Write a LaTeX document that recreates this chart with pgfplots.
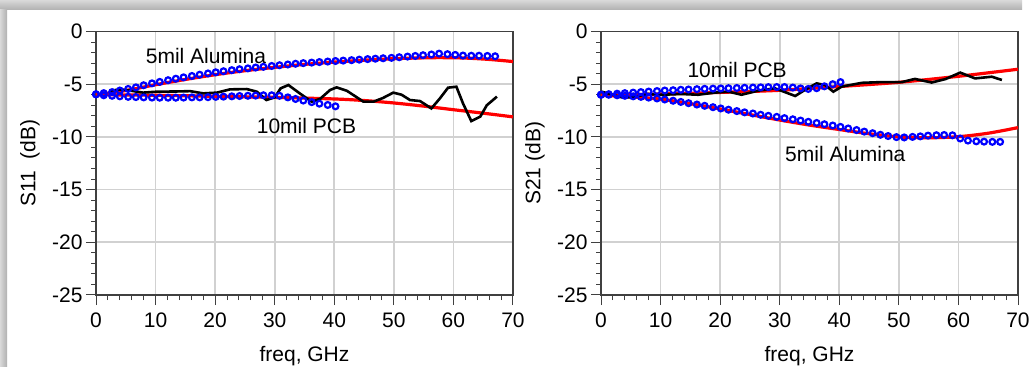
\documentclass[border=0pt]{standalone}
\usepackage{fontspec}
\setmainfont{Liberation Sans}
\usepackage{pgfplots}
\pgfplotsset{compat=1.18}
\definecolor{myblue}{rgb}{0,0,1}
\definecolor{myred}{rgb}{1,0,0}
\definecolor{gridfill}{rgb}{0.82,0.82,0.82}
\tikzset{lab/.style={anchor=base west, inner sep=0pt, font=\fontsize{21}{25}\selectfont}}
\pgfplotsset{myax/.style={
  scale only axis, width=417pt, height=263.5pt, anchor=south west,
  xmin=0, xmax=70, ymin=-25, ymax=0,
  xtick={0,10,...,70}, ytick={-25,-20,...,0},
  minor x tick num=4, minor y tick num=4,
  tick align=outside, xtick pos=bottom, ytick pos=left,
  major tick length=10pt, minor tick length=5pt,
  axis line style={black!75, line width=1.2pt},
  every tick/.style={black!75, line width=1pt},
  ticklabel style={font=\fontsize{21}{25}\selectfont},
  xticklabel style={yshift=-4pt},
  /pgf/number format/assume math mode=true,
  every axis x label/.style={at={(axis description cs:0.5,0)}, anchor=base, yshift=-66.5pt, font=\fontsize{21}{25}\selectfont},
  every axis y label/.style={at={(axis description cs:0,0.5)}, xshift=-66pt, rotate=90, anchor=center, font=\fontsize{21}{25}\selectfont},
  meas/.style={myblue, only marks, mark=o, mark size=2.9pt, mark options={line width=2.2pt, draw=myblue}},
  model/.style={myred, line width=3.2pt, smooth, no marks},
  pcb/.style={black, line width=2.6pt, no marks},
}}
\begin{document}
\begin{tikzpicture}
\fill[white] (0pt,0pt) rectangle (1029pt,367pt);
\shade[top color=gray!30, bottom color=gray!62] (0pt,357pt) rectangle (1022pt,367pt);
\shade[left color=gray!30, right color=gray!62] (0pt,0pt) rectangle (7pt,357pt);
% grid as thin filled bars behind both axes
\foreach \gx in {155.57,215.14,274.71,334.29,393.86,453.43,660.57,720.14,779.71,839.29,898.86,958.43}
  \fill[gridfill] (\gx pt-0.8pt,72pt) rectangle (\gx pt+0.8pt,335.5pt);
\foreach \gy in {124.7,177.4,230.1,282.8}{
  \fill[gridfill] (96pt,\gy pt-0.8pt) rectangle (513pt,\gy pt+0.8pt);
  \fill[gridfill] (601pt,\gy pt-0.8pt) rectangle (1018pt,\gy pt+0.8pt);}
% ---------------- S11 ----------------
\begin{axis}[myax, at={(96pt,72pt)}, xlabel={freq, GHz}, ylabel={S11\ \ (dB)}, clip=false]
\addplot[meas] table {
0 -5.95
1.3 -5.85
2.7 -5.75
4.0 -5.6
5.4 -5.45
6.7 -5.3
8.0 -5.1
9.4 -4.92
10.7 -4.78
12.1 -4.62
13.4 -4.48
14.7 -4.35
16.1 -4.22
17.4 -4.1
18.8 -3.98
20.1 -3.87
21.4 -3.77
22.8 -3.67
24.1 -3.58
25.5 -3.5
26.8 -3.42
28.1 -3.35
29.5 -3.27
30.8 -3.2
32.2 -3.13
33.5 -3.06
34.8 -3.0
36.2 -2.95
37.5 -2.9
38.9 -2.85
40.2 -2.8
41.5 -2.76
42.9 -2.72
44.2 -2.67
45.6 -2.62
46.9 -2.58
48.2 -2.54
49.6 -2.5
50.9 -2.44
52.3 -2.38
53.6 -2.32
54.9 -2.25
56.3 -2.18
57.6 -2.1
59.0 -2.15
60.3 -2.22
61.6 -2.28
63.0 -2.3
64.3 -2.3
65.7 -2.32
67.0 -2.35
};
\addplot[meas] table {
0 -5.97
1.3 -6.05
2.7 -6.1
4.0 -6.15
5.4 -6.2
6.7 -6.22
8.0 -6.25
9.4 -6.27
10.7 -6.28
12.1 -6.28
13.4 -6.28
14.7 -6.27
16.1 -6.25
17.4 -6.25
18.8 -6.23
20.1 -6.2
21.4 -6.18
22.8 -6.15
24.1 -6.12
25.5 -6.1
26.8 -6.08
28.1 -6.05
29.5 -6.05
30.8 -6.1
32.2 -6.25
33.5 -6.4
34.8 -6.55
36.2 -6.7
37.5 -6.85
38.9 -6.97
40.2 -7.1
};
\addplot[model] table {
0 -6.02
5 -5.6
10 -5.05
15 -4.55
20 -4.1
25 -3.72
30 -3.4
35 -3.12
40 -2.9
45 -2.72
50 -2.58
55 -2.5
58 -2.48
62 -2.52
66 -2.65
70 -2.85
};
\addplot[model] table {
0 -6.0
10 -6.05
20 -6.15
30 -6.25
40 -6.4
45 -6.55
50 -6.78
55 -7.08
60 -7.42
65 -7.75
70 -8.1
};
\addplot[pcb] table {
2.3 -5.62
4.0 -5.5
5.1 -5.55
7.9 -5.8
10.2 -5.71
13.5 -5.69
15.8 -5.66
18.0 -5.87
20.3 -5.8
22.5 -5.49
25.3 -5.46
27.0 -5.71
28.6 -6.5
30.0 -6.25
31.0 -5.39
32.3 -5.08
34.2 -5.87
36.2 -6.66
37.6 -6.4
39.3 -5.55
40.4 -5.3
42.1 -5.62
44.9 -6.66
46.6 -6.66
48.2 -6.3
49.9 -5.8
51.3 -6.0
52.7 -6.5
54.4 -6.6
56.3 -7.3
57.7 -6.37
59.1 -5.33
60.5 -5.24
61.6 -6.81
63.0 -8.5
64.5 -8.08
65.6 -7.0
67.3 -6.18
};
\node[lab] at (axis cs:8.34,-2.99) {5mil Alumina};
\node[lab] at (axis cs:26.97,-9.63) {10mil PCB};
\end{axis}
% ---------------- S21 ----------------
\begin{axis}[myax, at={(601pt,72pt)}, xlabel={freq, GHz}, ylabel={S21 (dB)}, clip=false]
\addplot[meas] table {
0 -6.0
1.3 -5.95
2.7 -5.9
4.0 -5.85
5.4 -5.8
6.7 -5.75
8.0 -5.7
9.4 -5.65
10.7 -5.6
12.1 -5.57
13.4 -5.53
14.7 -5.5
16.1 -5.47
17.4 -5.44
18.8 -5.42
20.1 -5.4
21.4 -5.38
22.8 -5.36
24.1 -5.34
25.5 -5.32
26.8 -5.3
28.1 -5.28
29.5 -5.27
30.8 -5.27
32.2 -5.32
33.5 -5.4
34.8 -5.45
36.2 -5.38
37.5 -5.2
38.9 -5.0
40.2 -4.8
};
\addplot[meas] table {
0 -6.0
1.3 -6.0
2.7 -6.05
4.0 -6.1
5.4 -6.15
6.7 -6.2
8.0 -6.27
9.4 -6.35
10.7 -6.45
12.1 -6.57
13.4 -6.68
14.7 -6.8
16.1 -6.93
17.4 -7.05
18.8 -7.18
20.1 -7.3
21.4 -7.42
22.8 -7.55
24.1 -7.67
25.5 -7.78
26.8 -7.9
28.1 -8.0
29.5 -8.1
30.8 -8.22
32.2 -8.33
33.5 -8.45
34.8 -8.57
36.2 -8.68
37.5 -8.8
38.9 -8.92
40.2 -9.05
41.5 -9.2
42.9 -9.35
44.2 -9.5
45.6 -9.65
46.9 -9.8
48.2 -9.92
49.6 -10.02
50.9 -10.05
52.3 -10.0
53.6 -9.95
54.9 -9.88
56.3 -9.84
57.6 -9.82
59.0 -9.85
60.3 -10.15
61.6 -10.35
63.0 -10.42
64.3 -10.45
65.7 -10.47
67.0 -10.47
};
\addplot[model] table {
0 -6.05
10 -5.93
20 -5.78
30 -5.58
40 -5.22
50 -4.82
60 -4.25
70 -3.58
};
\addplot[model] table {
0 -6.05
5 -6.2
10 -6.42
15 -6.85
20 -7.35
25 -7.88
30 -8.4
35 -8.88
40 -9.3
45 -9.7
50 -10.0
55 -10.08
60 -9.98
65 -9.65
70 -9.12
};
\addplot[pcb] table {
0.1 -5.71
3.5 -6.25
5.1 -6.25
7.9 -5.93
10.2 -6.0
13.5 -5.93
16.3 -6.0
19.1 -5.8
21.4 -5.71
23.6 -6.0
26.4 -5.61
29.2 -5.39
32.6 -6.12
34.2 -5.55
36.2 -4.92
37.6 -5.08
39.0 -5.71
40.4 -5.23
43.8 -4.87
47.1 -4.8
50.5 -4.8
52.7 -4.5
55.5 -4.84
57.8 -4.52
60.3 -3.9
62.8 -4.45
65.6 -4.29
67.3 -4.6
};
\node[lab] at (axis cs:14.49,-4.35) {10mil PCB};
\node[lab] at (axis cs:30.89,-12.29) {5mil Alumina};
\end{axis}
\pgfresetboundingbox
\useasboundingbox (0pt,0pt) rectangle (1029pt,367pt);
\end{tikzpicture}
\end{document}
